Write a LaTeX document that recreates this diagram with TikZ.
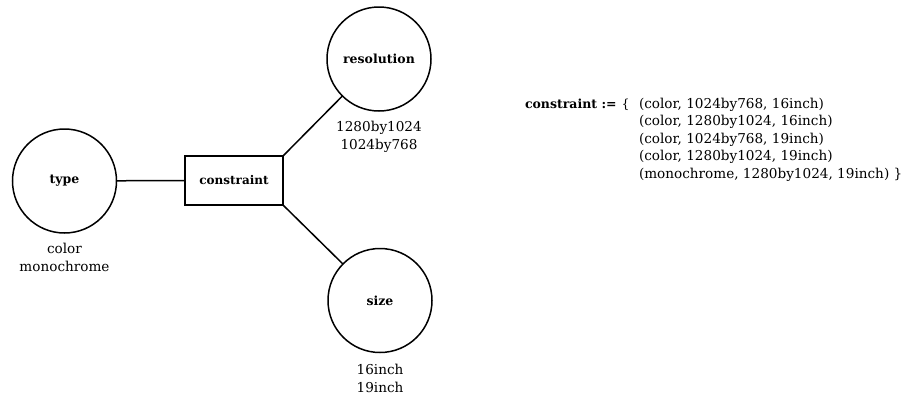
\documentclass[tikz,border=0pt]{standalone}
\usepackage{fontspec}
\setmainfont{DejaVu Serif}
\begin{document}
\begin{tikzpicture}[x=1pt,y=-1pt,
  every node/.style={inner sep=0pt, outer sep=0pt},
  attr/.style={circle, draw, line width=1.5pt, minimum size=104pt,
    font=\fontsize{12.5}{15}\selectfont\bfseries},
  relbox/.style={rectangle, draw, line width=1.5pt, minimum width=98pt,
    minimum height=49pt, font=\fontsize{12}{15}\selectfont\bfseries},
  vals/.style={font=\fontsize{13.6}{18.5}\selectfont, anchor=base},
  settext/.style={font=\fontsize{13.6}{17.5}\selectfont, anchor=base west},
  link/.style={line width=1.5pt}]
\useasboundingbox (0,0) rectangle (907,397);

% entity-relationship part
\node[relbox] (cons) at (234,180.5) {constraint};
\node[attr] (type) at (64.5,181) {type};
\node[attr] (res) at (379,59) {resolution};
\node[attr] (size) at (380,300.5) {size};

\draw[link] (type) -- (cons.west);
\draw[link] (cons.north east) -- (res);
\draw[link] (cons.south east) -- (size);

% value domains under each attribute
\node[vals] (typevals) at (64.5,253)
  {\begin{tabular}[t]{@{}c@{}}color\\monochrome\end{tabular}};
\node[vals] (resvals) at (379,131)
  {\begin{tabular}[t]{@{}c@{}}1280by1024\\1024by768\end{tabular}};
\node[vals] (sizevals) at (380,374)
  {\begin{tabular}[t]{@{}c@{}}16inch\\19inch\end{tabular}};

% the constraint as a set of tuples
\node[settext] (lhs) at (525,108)
  {\fontsize{12.5}{17.5}\selectfont\textbf{constraint :=}\hspace{5pt}\{};
\node[settext] (tuples) at (639,108)
  {\begin{tabular}[t]{@{}l@{}}
   (color, 1024by768, 16inch)\\
   (color, 1280by1024, 16inch)\\
   (color, 1024by768, 19inch)\\
   (color, 1280by1024, 19inch)\\
   (monochrome, 1280by1024, 19inch) \}
   \end{tabular}};
\end{tikzpicture}
\end{document}
